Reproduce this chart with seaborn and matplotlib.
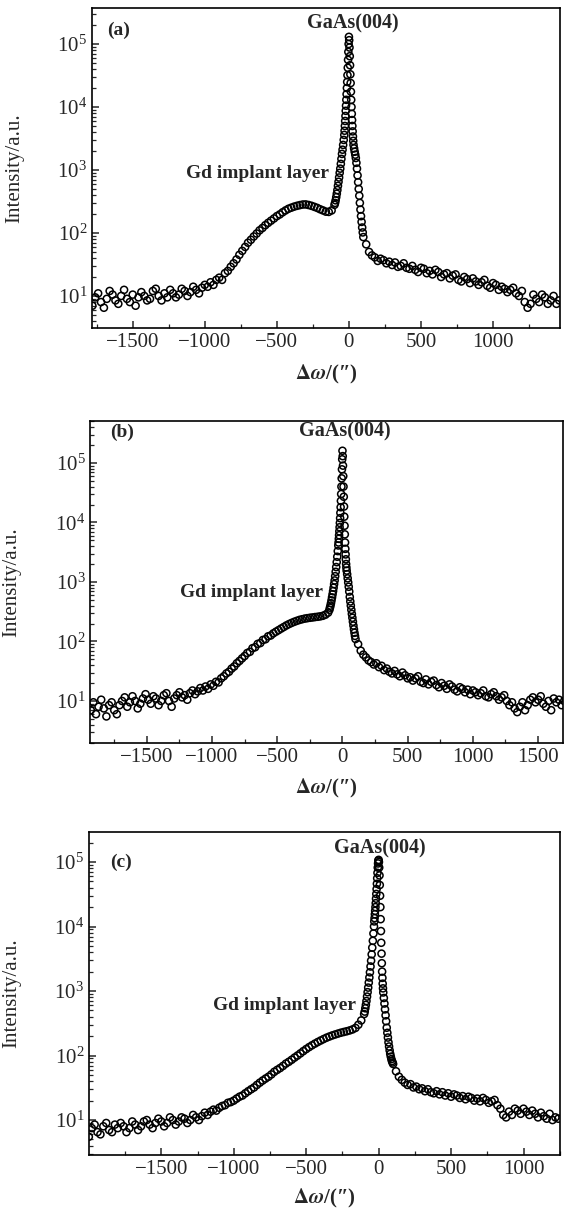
import numpy as np
import pandas as pd
import matplotlib
matplotlib.use("Agg")
import matplotlib.pyplot as plt
import seaborn as sns
from matplotlib.ticker import MultipleLocator, LogLocator, NullFormatter

# ---- panel (a) ----
a_left = [7, 9.5, 11, 8, 6.5, 9, 12, 10.5, 8.5, 7.5,
          10, 12.5, 9, 8, 10.5, 7, 9.5, 11.5, 10, 8.5,
          9, 12, 13, 10, 8.5, 11, 9.5, 12.5, 11, 9.5,
          10.5, 13, 12, 10, 11.5, 14, 12.5, 11, 13.5, 15,
          14, 16.5, 15, 18, 19.5, 18, 23, 25, 29, 33,
          38, 45, 52, 60, 70, 78, 88, 98, 110, 120,
          133, 145, 157, 170, 185, 197, 213, 228, 242, 252,
          262, 270, 277, 283, 284, 278, 270, 260, 250, 238,
          228, 218, 216, 228]
a_flank_l = [280, 300, 330, 370, 420, 480, 560, 650, 760, 900, 1050, 1250, 1500, 1800, 2100, 2500, 3000, 3600]
a_core = [4200, 5000, 6000, 7200, 8700, 10500, 13000, 16000, 20000, 25000, 32000, 42000, 56000, 75000, 100000,
          130000, 115000, 88000, 64000, 46000, 33000, 24000, 17500, 13000, 10000, 7800, 6200, 5000, 4100, 3400, 2900]
a_flank_r = [2500, 2200, 1950, 1750, 1550, 1300, 1050, 820, 640, 500, 390, 300, 235, 185, 150, 122, 102, 86]
a_right = [66, 50, 44, 41, 36, 39, 37, 33, 35, 31,
           34, 29, 30, 33, 28, 27, 30, 26, 24, 28,
           27, 23, 25, 22, 26, 24, 20, 22, 23, 19,
           21, 22, 18, 17, 20, 18.5, 16, 19, 17, 15,
           16.5, 18, 14.5, 13.5, 16, 15, 12.5, 14, 13, 11.5,
           12.5, 13.5, 11, 10, 12, 8, 6.5, 7.5, 10.5, 9,
           8, 10.5, 9.5, 7.5, 8.5, 10, 7.5, 8.5]

# ---- panel (b) ----
b_left = [7, 9.5, 6, 8, 10.5, 7.5, 5.5, 8.5, 9.5, 7,
          6, 8.5, 10, 11.5, 8, 9.5, 12, 10, 7.5, 9,
          11, 13, 10.5, 9, 12, 11, 8.5, 10, 12.5, 13.5,
          10, 8, 11, 12.5, 14, 11.5, 12.5, 10.5, 13.5, 15,
          13, 14.5, 16.5, 15, 17.5, 16, 19, 18, 21, 20.5,
          24, 26, 29, 31, 35, 38, 43, 47, 52, 57,
          64, 67, 77, 80, 91, 94, 106, 109, 122, 126,
          137, 146, 155, 165, 175, 186, 196, 205, 214, 222,
          230, 236, 242, 246, 250, 253, 257, 260, 264, 270,
          282, 305]
b_flank_l = [340, 370, 400, 440, 490, 550, 620, 700, 800, 920, 1060, 1250, 1480, 1780, 2150, 2650, 3300, 4100]
b_core = [4600, 5300, 6100, 7100, 8300, 9800, 11800, 14500, 18000, 23000, 30000, 40000, 55000, 78000, 115000,
          160000, 130000, 90000, 60000, 40000, 27000, 18500, 12500, 8800, 6300, 4600, 3600, 2900, 2400, 2000, 1750]
b_flank_r = [1550, 1350, 1150, 980, 830, 690, 560, 470, 400, 340, 290, 250, 215, 185, 160, 140, 124, 110]
b_right = [90, 70, 60, 54, 48, 45, 41, 43, 37, 39,
           33, 35, 31, 29, 32, 28, 26, 30, 27, 24,
           25, 22, 24, 26, 21, 20, 23, 19, 21, 22,
           18.5, 17, 20, 18, 16, 19, 17.5, 15.5, 14.5, 17,
           16, 14, 15.5, 13, 15, 14, 12.5, 13.5, 15, 12,
           11.5, 13, 14, 12, 10.5, 11.5, 12.5, 10, 8.5, 9.5,
           7.5, 6.5, 8, 9.5, 7, 8.5, 10.5, 11.5, 9.5, 10.5,
           12, 9, 8, 10, 7, 11, 9.5, 10.5, 8.5, 10]

# ---- panel (c) ----
c_left = [5.5, 7.5, 8.5, 6.5, 6, 8, 9, 7, 6.5, 8.5,
          7.5, 9, 8, 6.5, 7.5, 9.5, 8.5, 7, 8, 9.5,
          10, 8.5, 7.5, 9, 10.5, 9.5, 8, 9, 11, 10,
          8.5, 9.5, 11, 10.5, 9, 10, 12, 11, 10, 11.5,
          13, 12, 13.5, 14.5, 14, 15.5, 16.5, 17, 18.5, 19,
          20, 21.5, 23, 24, 26, 28, 30, 32, 35, 38,
          41, 44, 47, 51, 56, 60, 64, 69, 75, 80,
          86, 93, 100, 108, 117, 126, 135, 144, 153, 162,
          171, 180, 189, 197, 205, 212, 219, 226, 232, 238,
          245, 254, 268, 300, 350]
c_flank_l = [440, 480, 540, 610, 700, 820, 960, 1130, 1350, 1620, 1950, 2400, 2950, 3700, 4700, 6000, 7800, 10000]
c_core = [12000, 13500, 15500, 17500, 20000, 23000, 27000, 32000, 38000, 46000, 56000, 68000, 82000, 95000, 105000,
          108000, 100000, 82000, 62000, 44000, 30000, 20000, 13000, 8500, 5600, 3800, 2700, 2000, 1600, 1300, 1100]
c_flank_r = [950, 780, 640, 520, 420, 340, 270, 225, 190, 160, 138, 120, 106, 96, 88, 82, 78, 74]
c_right = [57, 47, 42, 38, 35, 36, 32, 33, 30, 31,
           28, 30, 27, 26, 28, 25, 27, 24, 26, 23,
           25, 24, 22, 23.5, 21, 23, 22, 20, 21.5, 19.5,
           22, 20.5, 18.5, 19.5, 20.5, 17, 15, 12, 11, 13.5,
           12, 15, 14, 12.5, 15, 13.5, 12, 14, 12.5, 11,
           13, 11.5, 10.5, 12.5, 10, 11, 10.5]

# scan grids: (start angle, step) for each segment
segments_a = [(-1780, 20, a_left), (-100, 4, a_flank_l), (-30, 2, a_core), (32, 4, a_flank_r), (120, 20, a_right)]
segments_b = [(-1930, 20, b_left), (-100, 4, b_flank_l), (-30, 2, b_core), (32, 4, b_flank_r), (120, 20, b_right)]
segments_c = [(-2000, 20, c_left), (-100, 4, c_flank_l), (-30, 2, c_core), (32, 4, c_flank_r), (120, 20, c_right)]

labels = ["(a)", "(b)", "(c)"]
xlims = [(-1783, 1465), (-1934, 1690), (-1998, 1252)]
ylims = [(3.1, 3.73e5), (1.97, 5.08e5), (2.87, 2.92e5)]
# axes boxes in figure fraction [left, bottom, width, height]
boxes = [[0.163, 0.7296, 0.830, 0.2638],
         [0.160, 0.3875, 0.838, 0.2655],
         [0.158, 0.0478, 0.835, 0.2663]]
xlabel_y = [-0.11, -0.107, -0.10]
# annotation places: (x in data, y in axes fraction)
tag_pos = [(-1681, 0.931), (-1785, 0.963), (-1853, 0.907)]
gaas_pos = [(28, 0.953), (18, 0.966), (8, 0.950)]
gd_pos = [(-635, 0.484), (-700, 0.466), (-653, 0.464)]


def build(segments):
    xs, ys = [], []
    for start, step, vals in segments:
        xs.append(start + step * np.arange(len(vals)))
        ys.append(np.array(vals, dtype=float))
    return pd.DataFrame({"dw": np.concatenate(xs), "I": np.concatenate(ys)})


sns.set_style("ticks")
plt.rcParams["font.family"] = ["Liberation Serif", "DejaVu Serif"]
plt.rcParams["mathtext.fontset"] = "stix"

fig = plt.figure(figsize=(5.64, 12.13), dpi=100)

for i, segs in enumerate([segments_a, segments_b, segments_c]):
    ax = fig.add_axes(boxes[i])
    df = build(segs)
    sns.scatterplot(data=df, x="dw", y="I", ax=ax, marker="o", s=26,
                    facecolor="none", edgecolor="black", linewidth=1.1, legend=False)
    ax.set_yscale("log")
    ax.set_xlim(*xlims[i])
    ax.set_ylim(*ylims[i])

    ax.xaxis.set_major_locator(MultipleLocator(500))
    ax.xaxis.set_minor_locator(MultipleLocator(250))
    ax.yaxis.set_major_locator(LogLocator(base=10))
    ax.yaxis.set_minor_locator(LogLocator(base=10, subs=np.arange(2, 10)))
    ax.yaxis.set_minor_formatter(NullFormatter())
    ax.tick_params(which="both", direction="in", top=False, right=False, labelsize=15)
    ax.tick_params(which="major", length=5, width=1.1)
    ax.tick_params(which="minor", length=3, width=0.9)
    for sp in ax.spines.values():
        sp.set_visible(True)
        sp.set_linewidth(1.2)
        sp.set_color("black")

    ax.set_ylabel("Intensity/a.u.", fontsize=15)
    ax.yaxis.set_label_coords(-0.145, 0.5)
    ax.set_xlabel(r"$\mathbf{\Delta}\mathbfit{\omega}$/(″)", fontsize=15, fontweight="bold")
    ax.xaxis.set_label_coords(0.5, xlabel_y[i])

    tr = ax.get_xaxis_transform()
    ax.text(tag_pos[i][0], tag_pos[i][1], labels[i], transform=tr, fontsize=14,
            fontweight="bold", ha="left", va="center")
    ax.text(gaas_pos[i][0], gaas_pos[i][1], "GaAs(004)", transform=tr, fontsize=14.5,
            fontweight="bold", ha="center", va="center")
    ax.text(gd_pos[i][0], gd_pos[i][1], "Gd implant layer", transform=tr, fontsize=14,
            fontweight="bold", ha="center", va="center")

fig.savefig("out.png", dpi=100)
